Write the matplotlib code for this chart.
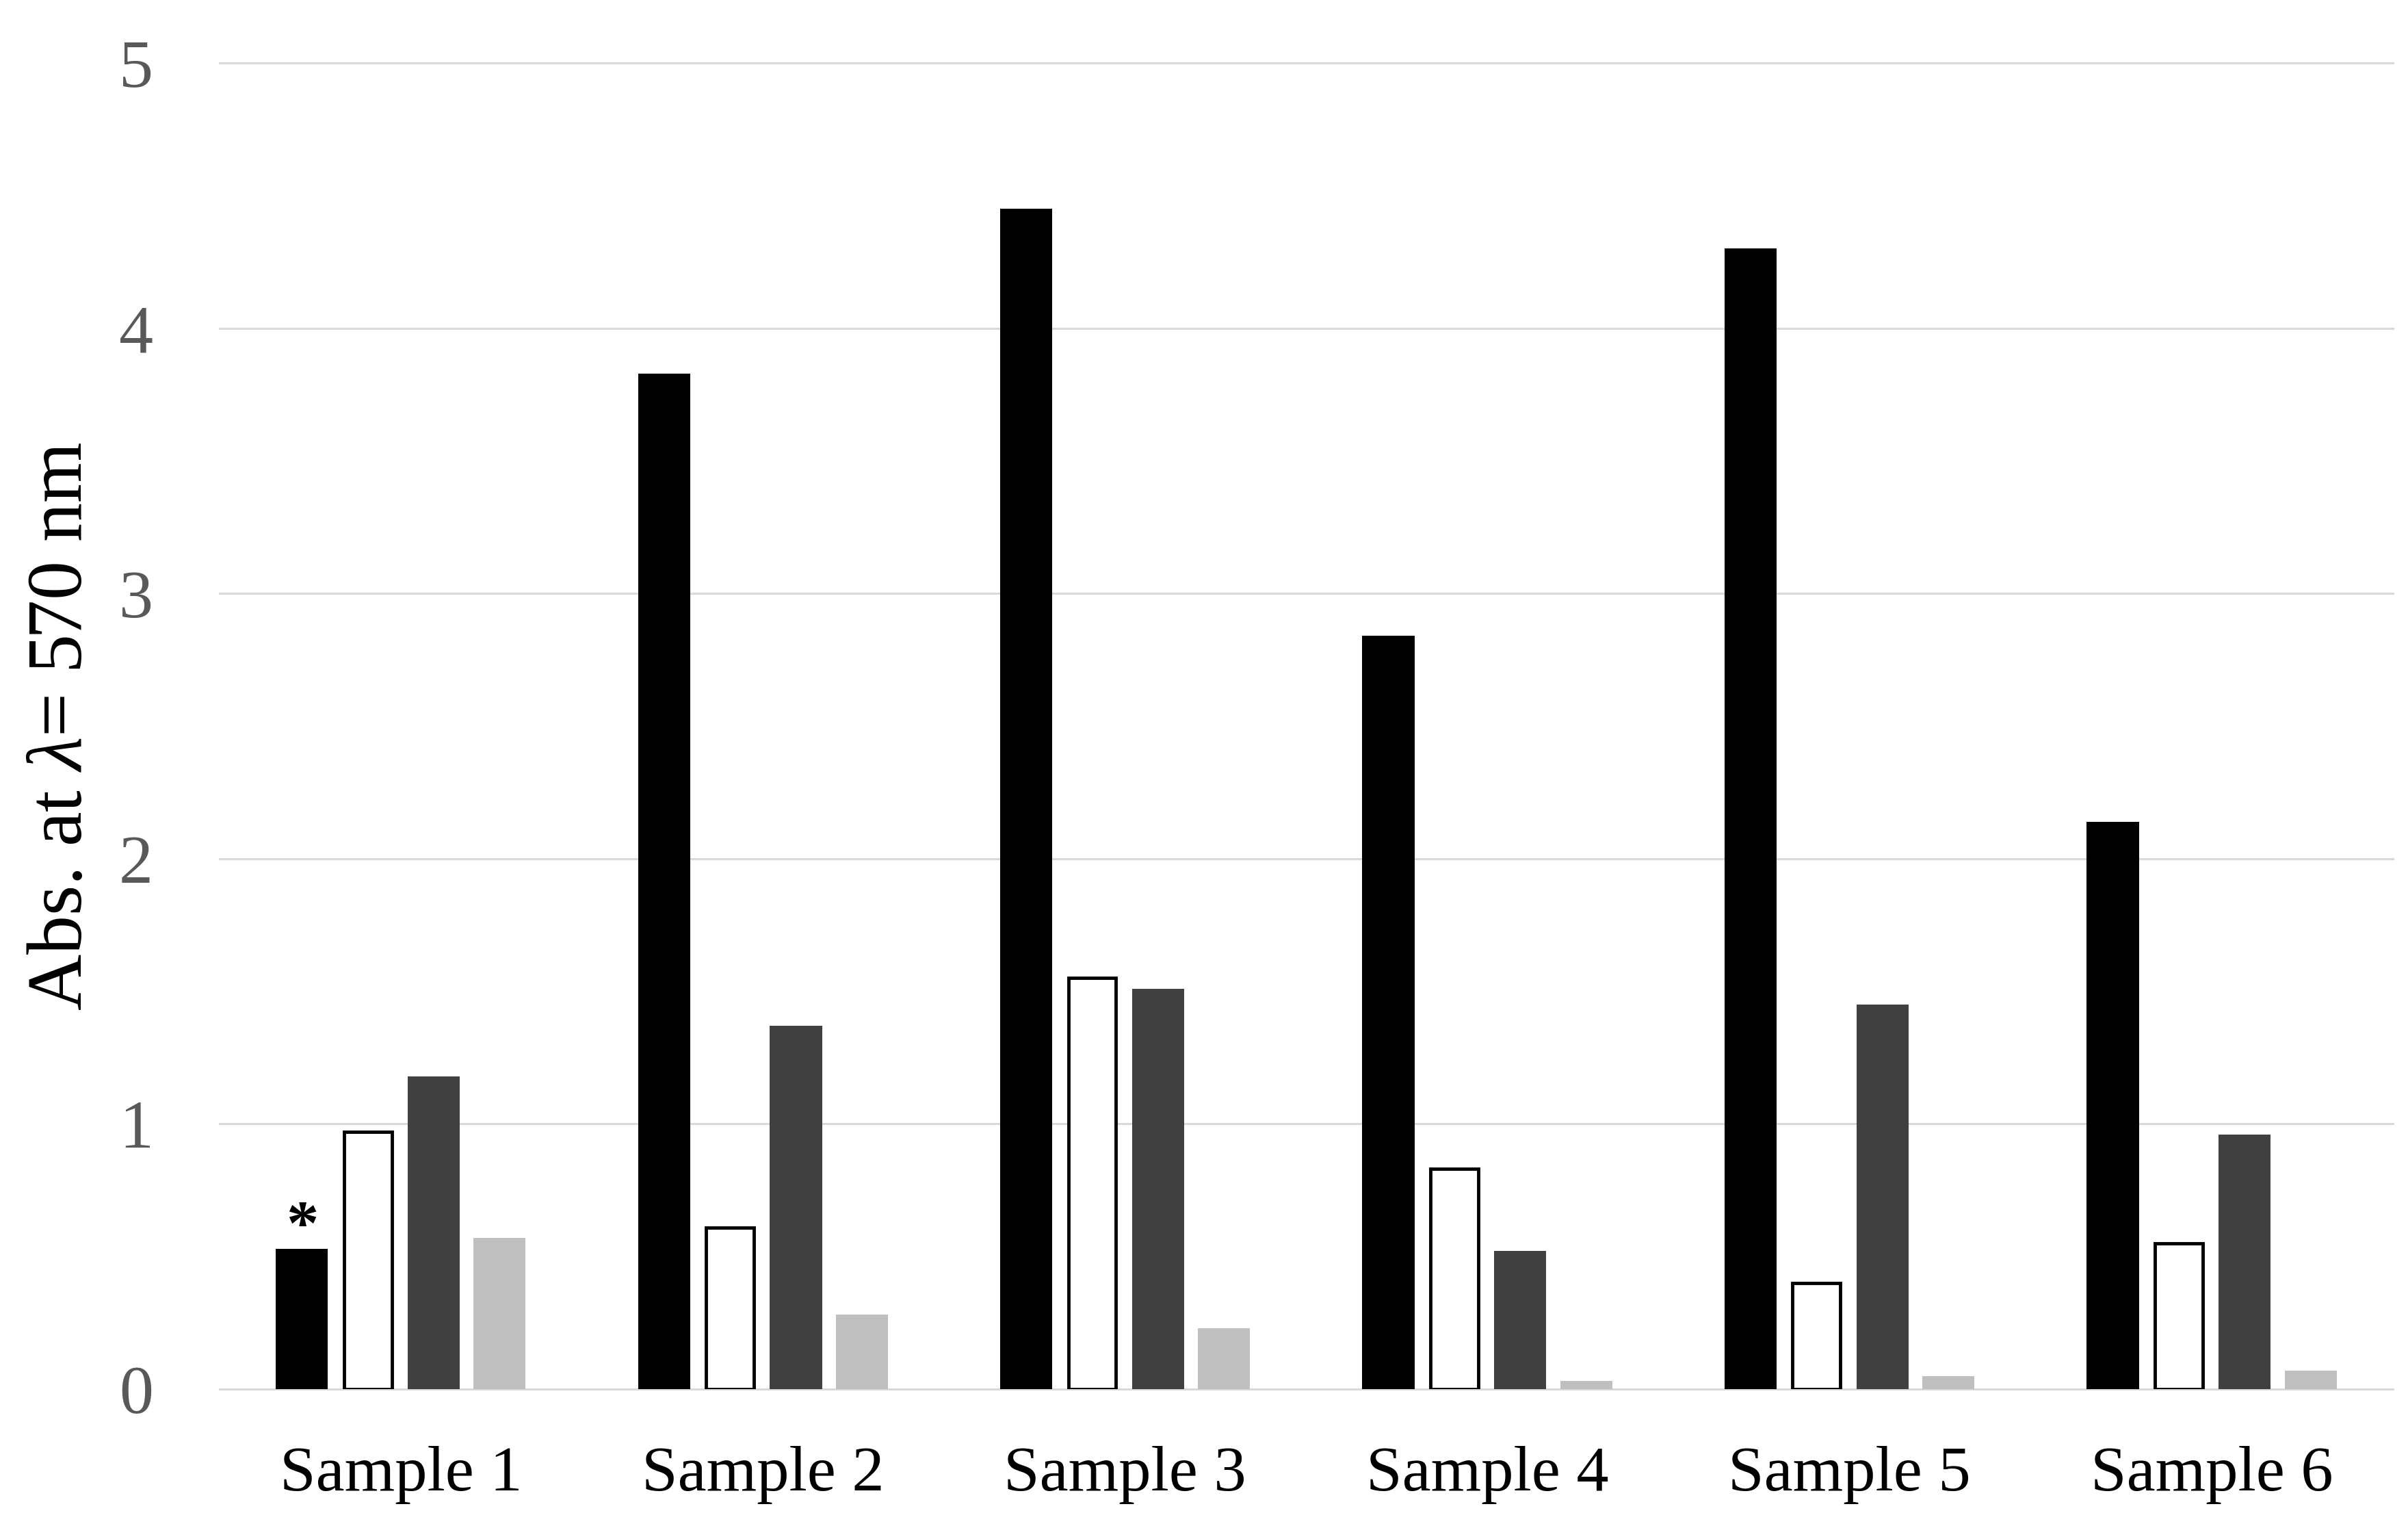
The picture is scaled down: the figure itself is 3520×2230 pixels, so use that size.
import matplotlib
matplotlib.use("Agg")
import matplotlib.pyplot as plt
import numpy as np

categories = ["Sample 1", "Sample 2", "Sample 3", "Sample 4", "Sample 5", "Sample 6"]
series_black = [0.53, 3.83, 4.45, 2.84, 4.30, 2.14]
series_white = [0.97, 0.61, 1.55, 0.83, 0.40, 0.55]
series_dark = [1.18, 1.37, 1.51, 0.52, 1.45, 0.96]
series_light = [0.57, 0.28, 0.23, 0.03, 0.05, 0.07]
y_ticks = [0, 1, 2, 3, 4, 5]
y_label = "Abs. at $\\mathit{\\lambda}$= 570 nm"

plt.rcParams['font.family'] = ['Liberation Serif', 'DejaVu Serif']
plt.rcParams['mathtext.fontset'] = 'custom'
plt.rcParams['mathtext.it'] = 'Liberation Serif:italic'
plt.rcParams['mathtext.rm'] = 'Liberation Serif'

fig = plt.figure(figsize=(35.2, 22.3), dpi=100)
ax = fig.add_axes([0.0912, 0.0897, 0.9025, 0.869])

x = np.arange(len(categories))
w = 0.144
step = 0.182
series = [series_black, series_white, series_dark, series_light]
faces = ['#000000', '#ffffff', '#404040', '#bfbfbf']
edges = ['#000000', '#000000', '#404040', '#bfbfbf']
lws = [0, 3.5, 0, 0]
for j, (vals, fc, ec, lw) in enumerate(zip(series, faces, edges, lws)):
    off = (j - 1.5) * step
    if lw > 0:
        ax.bar(x + off, vals, width=w - 0.012, color=fc, edgecolor=ec, linewidth=lw, zorder=3)
    else:
        ax.bar(x + off, vals, width=w, color=fc, linewidth=0, zorder=3)

# asterisk above Sample 1 black bar
ax.text(x[0] - 1.5 * step, series_black[0] - 0.035, "*", ha='center', va='bottom',
        fontsize=68, fontweight='bold', color='black', zorder=4)

ax.set_xlim(-0.5, len(categories) - 0.5)
ax.set_ylim(0, 5)
ax.set_yticks(y_ticks)
ax.set_yticklabels([str(t) for t in y_ticks])
ax.set_xticks(x)
ax.set_xticklabels(categories)

for s in ax.spines.values():
    s.set_visible(False)

ax.yaxis.grid(True, color='#d9d9d9', linewidth=2.2, zorder=0)
for gl in ax.yaxis.get_gridlines():
    gl.set_clip_on(False)
ax.set_axisbelow(True)

ax.tick_params(axis='y', length=0, pad=70, labelsize=72, labelcolor='#595959')
ax.tick_params(axis='x', length=0, pad=60, labelsize=68, labelcolor='black')
ax.set_ylabel(y_label, fontsize=82, labelpad=22, color='black')

fig.savefig("out.png", dpi=100, facecolor='white')
